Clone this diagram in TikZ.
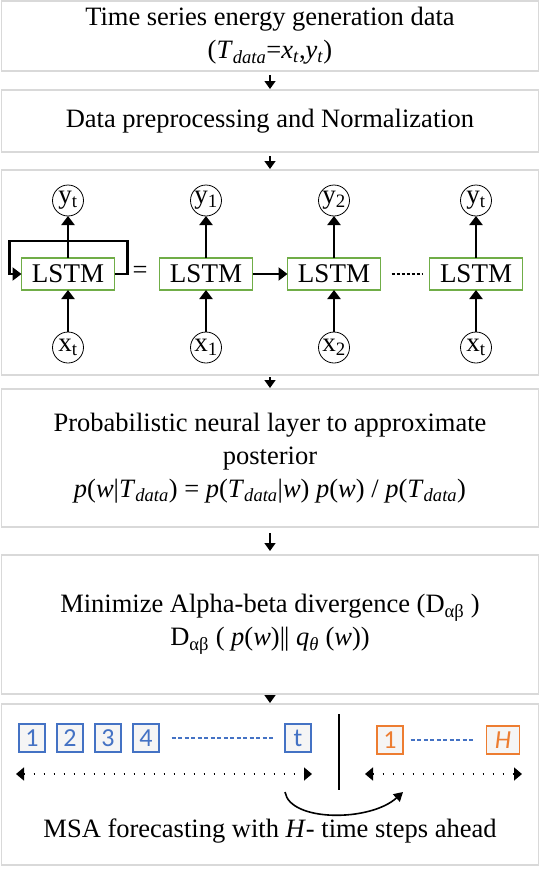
\documentclass[tikz,border=0pt]{standalone}
\usepackage{fontspec}
\setmainfont{Liberation Serif}
\newfontfamily\calib{Carlito}
\usetikzlibrary{positioning,arrows.meta}
\definecolor{boxgray}{HTML}{D9D9D9}
\definecolor{cellgreen}{HTML}{70AD47}
\definecolor{stepblue}{HTML}{4472C4}
\definecolor{steporange}{HTML}{ED7D31}
\newcommand{\bigtxt}{\fontsize{26.5}{33}\selectfont}
\newcommand{\tdata}{\textit{T}\textsubscript{\textit{data}}}
\newcommand{\dab}{D\textsubscript{αβ}}

\begin{document}
\begin{tikzpicture}
[
x=1pt, y=-1pt,
stage/.style={rectangle, draw=boxgray, line width=1.2pt, minimum width=537pt, align=center, font=\bigtxt, inner sep=0pt, outer sep=0pt},
cell/.style={rectangle, draw=cellgreen, line width=1.5pt, minimum width=93pt, minimum height=32pt, inner sep=0pt, outer sep=0pt, font=\fontsize{27}{30}\selectfont},
io/.style={circle, draw=black, line width=0.8pt, minimum size=31pt, inner sep=0pt, outer sep=0pt, font=\fontsize{27}{28}\selectfont, node distance=42pt},
tick/.style={-{Triangle[length=8pt,width=11pt]}, line width=1.4pt, shorten <=4pt, shorten >=1pt},
flow/.style={-{Triangle[length=9pt,width=13pt]}, line width=2.4pt},
past/.style={rectangle, draw=stepblue, fill=gray!8, line width=1.2pt, minimum width=26pt, minimum height=28pt, inner sep=0pt, text=stepblue, font=\calib\fontsize{26}{26}\selectfont},
ahead/.style={past, draw=steporange, text=steporange},
span/.style={{Triangle[length=8pt,width=13pt]}-{Triangle[length=8pt,width=13pt]}, line width=1.6pt, dash pattern=on 1.6pt off 8.4pt}
]
\useasboundingbox (0,0) rectangle (540,870);

%Nodes
\node[stage, minimum height=70pt]  (data)                       at (270,36) {Time series energy generation data\\(\tdata=\textit{x}\textsubscript{\textit{t}},\textit{y}\textsubscript{\textit{t}})};
\node[stage, minimum height=62pt]  (prep)   [below=19pt of data]   {Data preprocessing and Normalization};
\node[stage, minimum height=205pt] (rnn)    [below=18pt of prep]   {};
\node[stage, minimum height=138pt] (prob)   [below=14pt of rnn]    {Probabilistic neural layer to approximate\\posterior\\\textit{p}(\textit{w}|\tdata) = \textit{p}(\tdata|\textit{w}) \textit{p}(\textit{w}) / \textit{p}(\tdata)};
\node[stage, minimum height=139pt] (div)    [below=28pt of prob]   {Minimize Alpha-beta divergence (\dab\ )\\\dab\ ( \textit{p}(\textit{w})|\kern-1pt| \textit{q}\textsubscript{\textit{θ}} (\textit{w}))};
\node[stage, minimum height=161pt] (msa)    [below=10pt of div]    {};

%LSTM cells
\node[cell] (l0) at (68,274)           {LSTM};
\node[cell] (l1) at (206,274)          {LSTM};
\node[cell] (l2) [right=35pt of l1]    {LSTM};
\node[cell] (l3) [right=49pt of l2]    {LSTM};
\node[io]   (y0) [above=of l0]         {y\textsubscript{t}};
\node[io]   (x0) [below=of l0]         {x\textsubscript{t}};
\node[io]   (y1) [above=of l1]         {y\textsubscript{1}};
\node[io]   (x1) [below=of l1]         {x\textsubscript{1}};
\node[io]   (y2) [above=of l2]         {y\textsubscript{2}};
\node[io]   (x2) [below=of l2]         {x\textsubscript{2}};
\node[io]   (y3) [above=of l3]         {y\textsubscript{t}};
\node[io]   (x3) [below=of l3]         {x\textsubscript{t}};
\node[font=\bigtxt] (eq) at (140,272)  {=};

%Forecast steps
\node[past]  (s1) at (32,738)   {1};
\node[past]  (s2) at (70,738)   {2};
\node[past]  (s3) at (108,738)  {3};
\node[past]  (s4) at (146,738)  {4};
\node[past]  (st) at (298,738)  {t};
\node[ahead] (h1) at (390,740)  {1};
\node[ahead, minimum width=33pt] (hH) at (503,740) {\itshape H};
\node[font=\bigtxt] (caption) at (270,831) {MSA forecasting with \textit{H}- time steps ahead};
\coordinate (cutTop)  at (339,714);
\coordinate (cutBot)  at (339,790);
\coordinate (pastL)   at (16,774);
\coordinate (pastR)   at (312,774);
\coordinate (futL)    at (365,774);
\coordinate (futR)    at (522,774);
\coordinate (jumpA)   at (285,792);
\coordinate (jumpB)   at (403,792);

%Lines
\draw[tick] (data) -- (prep);
\draw[tick] (prep) -- (rnn);
\draw[tick, shorten <=2pt] (rnn) -- (prob);
\draw[tick, shorten <=6pt, shorten >=4pt] (prob) -- (div);
\draw[tick, shorten <=1pt] (div) -- (msa);

\path[flow]
(x0) edge (l0)  (l0) edge (y0)
(x1) edge (l1)  (l1) edge (y1)
(x2) edge (l2)  (l2) edge (y2)
(x3) edge (l3)  (l3) edge (y3)
(l1) edge (l2);
\draw[flow] (l0.east) -| ++(13,-33) -| ([xshift=-12pt]l0.west) -- (l0.west);
\draw[line width=2pt, dash pattern=on 3pt off 2pt, shorten <=11pt, shorten >=7pt] (l2.east) -- (l3.west);

\draw[stepblue, line width=1.5pt, dash pattern=on 4pt off 2.5pt, shorten <=12pt, shorten >=11pt] (s4.east) -- (st.west);
\draw[stepblue, line width=1.5pt, dash pattern=on 4pt off 2.5pt, shorten <=7pt, shorten >=11pt] (h1.east) -- (hH.west);
\draw[line width=2pt] (cutTop) -- (cutBot);
\draw[span] (pastL) -- (pastR);
\draw[span] (futL) -- (futR);
\draw[-{Triangle[length=9pt,width=10pt]}, line width=1.6pt] (jumpA) .. controls (290,822) and (370,822) .. (jumpB);

\end{tikzpicture}
\end{document}
